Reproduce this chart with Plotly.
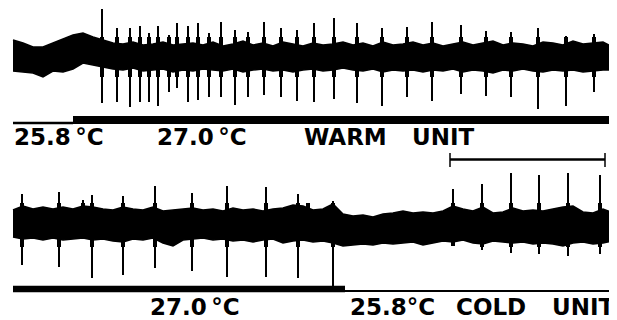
import plotly.graph_objects as go

# ---------------- data (pixel-like units) ----------------
env_x = list(range(13, 614, 10))

warm_upper = [40, 43, 47, 47, 43, 39, 35, 33, 37, 40, 43, 44, 42, 45, 44, 42, 45, 44, 43, 45,
              42, 46, 44, 41, 45, 43, 46, 42, 44, 46, 43, 45, 44, 42, 45, 43, 46, 42, 45, 44,
              42, 45, 43, 46, 44, 42, 45, 43, 41, 45, 43, 44, 46, 42, 43, 45, 41, 44, 43, 42, 47]
warm_lower = [71, 72, 73, 77, 71, 72, 69, 63, 65, 67, 69, 70, 68, 71, 70, 69, 72, 70, 71, 69,
              70, 71, 69, 72, 70, 69, 71, 70, 72, 70, 69, 71, 70, 68, 70, 71, 69, 72, 70, 71,
              70, 72, 70, 71, 69, 72, 70, 71, 73, 70, 71, 69, 71, 72, 70, 71, 70, 72, 71, 70, 70]

cold_upper = [210, 206, 209, 207, 209, 207, 209, 206, 207, 209, 210, 207, 209, 210, 207, 211, 210, 209, 208, 210,
              209, 211, 208, 210, 209, 211, 209, 208, 205, 206, 210, 209, 204, 214, 216, 215, 217, 214, 213, 211,
              213, 212, 213, 211, 206, 209, 211, 207, 213, 212, 208, 211, 210, 211, 209, 207, 206, 212, 213, 209, 213]
cold_lower = [237, 239, 238, 240, 238, 240, 239, 238, 240, 239, 241, 242, 239, 240, 238, 243, 246, 240, 239, 238,
              240, 239, 241, 240, 242, 240, 239, 243, 241, 240, 242, 241, 243, 246, 245, 244, 245, 243, 244, 243,
              242, 245, 243, 241, 242, 240, 243, 244, 241, 242, 243, 242, 244, 243, 244, 246, 243, 242, 244, 243, 241]

# spikes: position, upward tip, downward tip
warm_spike_x = [102, 117, 130, 140, 149, 158, 169, 177, 188, 198, 209, 221, 235, 248, 264, 281, 297,
                314, 334, 357, 382, 407, 432, 461, 486, 511, 538, 566, 594]
warm_spike_up = [9, 28, 28, 26, 33, 26, 35, 23, 26, 23, 33, 22, 30, 32, 22, 28, 30,
                 23, 18, 23, 28, 27, 22, 25, 31, 32, 28, 36, 34]
warm_spike_dn = [103, 102, 107, 102, 102, 106, 92, 88, 102, 100, 97, 97, 105, 97, 95, 97, 101,
                 102, 99, 103, 106, 97, 101, 94, 96, 97, 109, 106, 92]
warm_base = [37, 77]          # extent of the broad spike shoulders

cold_spike_x = [22, 59, 83, 92, 123, 155, 192, 227, 266, 298, 308, 333, 453, 482, 511, 539, 568, 600]
cold_spike_up = [194, 192, 200, 195, 196, 186, 193, 186, 187, 194, 203, 201, 189, 184, 173, 175, 173, 175]
cold_spike_dn = [265, 267, 225, 278, 275, 268, 271, 277, 277, 278, 225, 289, 246, 250, 253, 254, 256, 254]
cold_base = [203, 247]

# temperature step markers
warm_stim_x = [13, 73, 73, 613]
warm_stim_y = [123, 123, 120, 120]
cold_stim_x = [13, 345, 345, 614]
cold_stim_y = [289, 289, 291, 291]

top_labels = ["25.8\u2009°C", "27.0\u2009°C", "WARM", "UNIT"]
top_label_x = [13, 156, 303, 411]
bottom_labels = ["27.0\u2009°C", "25.8°C", "COLD", "UNIT"]
bottom_label_x = [149, 349, 455, 551]

scale_x = [450, 605]

# the page body has an 8 px margin, so the figure is sized to the remaining window
PAGE_OFFSET = 8

# ---------------- figure ----------------
fig = go.Figure()


def band(xs, up, lo):
    fig.add_trace(go.Scatter(x=xs + xs[::-1], y=up + lo[::-1], fill="toself",
                             fillcolor="black", mode="lines",
                             line=dict(color="black", width=1.5), hoverinfo="skip"))


def spikes(xs, ups, dns, base, width=2):
    sx, sy, bx, by = [], [], [], []
    for x, u, d in zip(xs, ups, dns):
        sx += [x, x, None]
        sy += [u, d, None]
        bx += [x, x, None]
        by += [max(u, base[0]), min(d, base[1]), None]
    fig.add_trace(go.Scatter(x=sx, y=sy, mode="lines",
                             line=dict(color="black", width=width), hoverinfo="skip"))
    fig.add_trace(go.Scatter(x=bx, y=by, mode="lines",
                             line=dict(color="black", width=4), hoverinfo="skip"))


band(env_x, warm_upper, warm_lower)
band(env_x, cold_upper, cold_lower)
spikes(warm_spike_x, warm_spike_up, warm_spike_dn, warm_base)
spikes(cold_spike_x, cold_spike_up, cold_spike_dn, cold_base)

# stimulus bars: thin part + thick part
fig.add_trace(go.Scatter(x=warm_stim_x[:2], y=warm_stim_y[:2], mode="lines",
                         line=dict(color="black", width=2.5)))
fig.add_trace(go.Scatter(x=warm_stim_x[2:], y=warm_stim_y[2:], mode="lines",
                         line=dict(color="black", width=8)))
fig.add_trace(go.Scatter(x=cold_stim_x[:2], y=cold_stim_y[:2], mode="lines",
                         line=dict(color="black", width=6.5)))
fig.add_trace(go.Scatter(x=cold_stim_x[2:], y=cold_stim_y[2:], mode="lines",
                         line=dict(color="black", width=2)))

# time scale bar
fig.add_trace(go.Scatter(x=scale_x, y=[159.5, 159.5], mode="lines",
                         line=dict(color="black", width=2.5)))
fig.add_trace(go.Scatter(x=[scale_x[0], scale_x[0], None, scale_x[1], scale_x[1]],
                         y=[153, 167, None, 153, 167], mode="lines",
                         line=dict(color="black", width=1.5)))

font = dict(family="DejaVu Sans", size=23, color="black", weight="bold")
for t, x in zip(top_labels, top_label_x):
    fig.add_annotation(x=x, y=137, xref="x", yref="y", text=t, showarrow=False,
                       xanchor="left", yanchor="middle", font=font, borderpad=0)
for t, x in zip(bottom_labels, bottom_label_x):
    fig.add_annotation(x=x, y=306.5, xref="x", yref="y", text=t, showarrow=False,
                       xanchor="left", yanchor="middle", font=font, borderpad=0)

fig.update_layout(width=617 - PAGE_OFFSET, height=320 - PAGE_OFFSET,
                  margin=dict(l=0, r=0, t=0, b=0),
                  paper_bgcolor="white", plot_bgcolor="white", showlegend=False,
                  xaxis=dict(range=[PAGE_OFFSET, 617], visible=False, fixedrange=True),
                  yaxis=dict(range=[320, PAGE_OFFSET], visible=False, fixedrange=True))

fig.write_html("out.html", config={"displayModeBar": False})
